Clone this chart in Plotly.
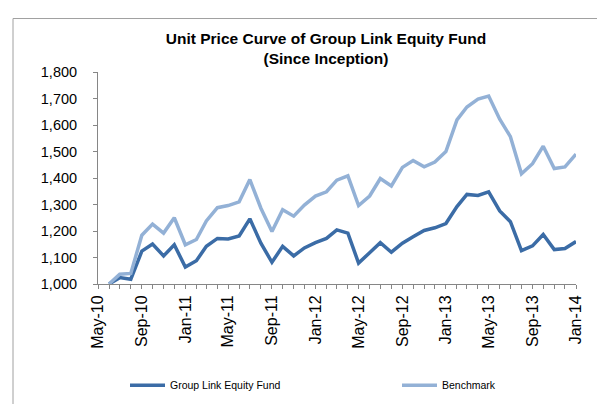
import plotly.graph_objects as go

months = ["2010-06-01","2010-07-01","2010-08-01","2010-09-01","2010-10-01","2010-11-01","2010-12-01",
          "2011-01-01","2011-02-01","2011-03-01","2011-04-01","2011-05-01","2011-06-01","2011-07-01",
          "2011-08-01","2011-09-01","2011-10-01","2011-11-01","2011-12-01",
          "2012-01-01","2012-02-01","2012-03-01","2012-04-01","2012-05-01","2012-06-01","2012-07-01",
          "2012-08-01","2012-09-01","2012-10-01","2012-11-01","2012-12-01",
          "2013-01-01","2013-02-01","2013-03-01","2013-04-01","2013-05-01","2013-06-01","2013-07-01",
          "2013-08-01","2013-09-01","2013-10-01","2013-11-01","2013-12-01","2014-01-01"]

fund = [1000, 1024, 1018, 1124, 1151, 1106, 1148,
        1064, 1088, 1142, 1172, 1170, 1181, 1246,
        1154, 1082, 1142, 1106, 1136,
        1156, 1172, 1204, 1192, 1079, 1118, 1156,
        1120, 1154, 1178, 1202, 1212,
        1228, 1292, 1338, 1334, 1348, 1276, 1235,
        1126, 1144, 1187, 1130, 1134, 1160]

benchmark = [1000, 1037, 1040, 1184, 1226, 1192, 1250,
             1148, 1168, 1238, 1288, 1296, 1310, 1394,
             1286, 1198, 1280, 1256, 1298,
             1332, 1348, 1392, 1408, 1296, 1332, 1398,
             1370, 1440, 1466, 1442, 1460,
             1500, 1619, 1668, 1698, 1709, 1622, 1556,
             1416, 1454, 1520, 1436, 1442, 1490]

title_lines = ["Unit Price Curve of Group Link Equity Fund", "(Since Inception)"]
series_names = ["Group Link Equity Fund", "Benchmark"]

W, H = 605, 404
L, R, T, B = 90, 37, 64, 118
pw, ph = W - L - R, H - T - B

fig = go.Figure()
fig.add_trace(go.Scatter(x=months, y=fund, mode="lines", name=series_names[0],
                         line=dict(color="#3B6CA6", width=3.5), legend="legend"))
fig.add_trace(go.Scatter(x=months, y=benchmark, mode="lines", name=series_names[1],
                         line=dict(color="#93B1D6", width=3.5), legend="legend2"))

legend_y = (T + ph - 392) / ph
common_legend = dict(orientation="h", xanchor="left", y=legend_y, yanchor="middle",
                     font=dict(size=10.5, color="black"), itemwidth=35,
                     bgcolor="rgba(0,0,0,0)")

fig.update_layout(
    width=W, height=H,
    margin=dict(l=L, r=R, t=T, b=B),
    paper_bgcolor="white", plot_bgcolor="white",
    font=dict(family="Liberation Sans, Arial, sans-serif", color="black", size=13),
    title=dict(text="<b>" + title_lines[0] + "</b><br><b>" + title_lines[1] + "</b>",
               x=318 / W, xanchor="center", xref="container",
               y=1 - 36 / H, yanchor="top", yref="container",
               font=dict(size=15.5, color="black")),
    showlegend=True,
    legend=dict(x=(117 - L) / pw, **common_legend),
    legend2=dict(x=(389 - L) / pw, **common_legend),
    xaxis=dict(type="date", range=["2010-05-01", "2014-01-01"],
               tick0="2010-05-01", dtick="M4", tickformat="%b-%y", tickangle=-90,
               showgrid=False, showline=True, linecolor="#868686", linewidth=1,
               ticks="outside", ticklen=4, tickcolor="#868686",
               minor=dict(dtick="M1", ticks="outside", ticklen=4, tickcolor="#868686", showgrid=False),
               tickfont=dict(size=16), zeroline=False, automargin=False),
    yaxis=dict(range=[1000, 1800], dtick=100, tickformat=",",
               showgrid=False, showline=True, linecolor="#868686", linewidth=1,
               ticks="outside", ticklen=4, tickcolor="#868686", ticklabelstandoff=13,
               tickfont=dict(size=14.5), zeroline=False, automargin=False),
)

# chart area border (Excel-like)
fig.add_shape(type="rect", xref="paper", yref="paper",
              x0=(5 - L) / pw, x1=(W + 10 - L) / pw,
              y0=(T + ph - (H + 10)) / ph, y1=(T + ph - 8) / ph,
              line=dict(color="#A0A0A0", width=1), fillcolor="rgba(0,0,0,0)", layer="below")

fig.write_html("out.html")
